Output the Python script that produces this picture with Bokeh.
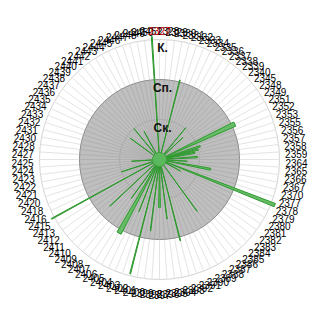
import numpy as np
from bokeh.plotting import figure
from bokeh.models import ColumnDataSource, Range1d
from bokeh.embed import file_html
from bokeh.resources import INLINE
from bokeh.core.properties import value

# ---- data -------------------------------------------------------------
labels = (
    ["2327", "2328", "2329", "2330", "2331",
     "2332", "2333", "2334", "2335", "2336", "2337", "2338", "2339", "2340",
     "2345", "2348", "2349", "2351", "2352", "2353", "2355", "2356", "2357",
     "2358", "2359", "2364", "2365", "2366", "2367", "2370", "2377", "2378",
     "2379", "2380", "2381", "2382", "2383", "2384", "2385", "2386", "2387",
     "2388", "2389", "2390", "2391", "2392", "2393", "2394", "2395", "2396",
     "2397", "2398", "2399", "2400", "2401", "2402", "2403", "2404", "2405",
     "2406", "2407", "2408", "2409", "2410", "2411", "2412", "2413", "2415",
     "2416", "2418", "2420", "2421", "2422", "2423", "2424", "2425", "2427",
     "2428", "2430", "2431", "2432", "2433", "2434", "2435", "2436", "2437",
     "2438", "2439", "2440", "2441", "2442", "2443", "2444", "2445", "2446",
     "2447", "2448", "2449", "2450", "2451"]
)
highlight = "2327"

# radial value of each category (Ск. = 1, Сп. = 2, К. = 3)
values = [0] * 100
# relative angular width of each bar (share of its sector)
shares = [0.12] * 100
bar_data = {
    99: (3.08, 0.12), 4: (2.05, 0.12), 11: (1.03, 0.12), 13: (0.8, 0.12),
    18: (2.08, 0.9), 20: (1.07, 0.6), 21: (1.0, 0.5), 22: (0.9, 0.6),
    24: (0.95, 0.6), 26: (0.7, 0.12), 28: (1.3, 0.6), 31: (3.1, 0.45),
    33: (0.6, 0.12), 40: (1.6, 0.12), 46: (2.1, 0.12), 48: (1.5, 0.12),
    50: (1.2, 0.6), 52: (1.8, 0.12), 54: (2.95, 0.12), 56: (1.4, 0.12),
    58: (2.1, 0.9), 60: (1.2, 0.12), 63: (1.7, 0.12), 67: (3.08, 0.12),
    70: (1.0, 0.12), 74: (0.7, 0.12), 85: (0.9, 0.12), 89: (1.0, 0.12),
    92: (0.8, 0.12),
}
for k, (v, s) in bar_data.items():
    values[k] = v
    shares[k] = s

ring_levels = [1, 2, 3]
ring_names = ["Ск.", "Сп.", "К."]

# ---- geometry ---------------------------------------------------------
UNIT = 40.0          # px per radial unit
n = len(labels)
step = 2 * np.pi / n
theta = np.arange(n) * step              # clockwise from top
ang = np.pi / 2 - theta                  # bokeh angle
R_OUT = UNIT * ring_levels[-1]
R_MID = UNIT * ring_levels[-2]
R_IN = UNIT * ring_levels[0]

p = figure(width=320, height=320, output_backend="svg", toolbar_location=None,
           x_range=Range1d(-159, 161), y_range=Range1d(-161, 159),
           min_border=0, outline_line_color=None, background_fill_color="white")
p.axis.visible = False
p.grid.visible = False

# outer ring
p.circle(x=[0], y=[0], radius=[R_OUT], fill_color="white", line_color="#d4d4d4", line_width=1)
p.segment(x0=np.zeros(n), y0=np.zeros(n), x1=R_OUT * np.cos(ang), y1=R_OUT * np.sin(ang),
          line_color="#e4e4e4", line_width=1)
# gray disc
p.circle(x=[0], y=[0], radius=[R_MID], fill_color="#bfbfbf", line_color="#8a8a8a", line_width=1)
p.segment(x0=np.zeros(n), y0=np.zeros(n), x1=R_MID * np.cos(ang), y1=R_MID * np.sin(ang),
          line_color="#b0b0b0", line_width=1)
p.circle(x=[0], y=[0], radius=[R_IN], fill_color=None, line_color="#ababab", line_width=1)

# bars
vals = np.array(values, dtype=float)
sh = np.array(shares)
mask = vals > 0
src = ColumnDataSource(dict(
    r=vals[mask] * UNIT,
    a0=(ang - sh * step / 2)[mask],
    a1=(ang + sh * step / 2)[mask],
))
p.wedge(x=0, y=0, radius="r", start_angle="a0", end_angle="a1", source=src,
        fill_color="#66bb66", fill_alpha=1.0, line_color="#2f9a2f", line_width=1)

p.circle(x=[0], y=[0], radius=[7], fill_color="#5cb85c", line_color="#3f9f3f", line_width=1)

# ring names
p.text(x=[3] * 3, y=[UNIT * l - 8 for l in ring_levels], text=ring_names,
       text_font=value("Liberation Sans"), text_font_style="bold", text_font_size="12px",
       text_align="center", text_baseline="middle", text_color="#111111")

# category labels
lx = 137 * np.sin(theta)
ly = 132 * np.cos(theta) - 3
is_hl = np.array([t == highlight for t in labels])
lab = np.array(labels)
p.text(x=lx[~is_hl], y=ly[~is_hl], text=list(lab[~is_hl]), text_color="black",
       text_font=value("Liberation Sans"), text_font_size="10px",
       text_align="center", text_baseline="middle")
p.text(x=lx[is_hl], y=ly[is_hl], text=list(lab[is_hl]), text_color="#c00000",
       text_font=value("Liberation Sans"), text_font_size="10px",
       text_align="center", text_baseline="middle")

open("out.html", "w").write(file_html(p, INLINE))
